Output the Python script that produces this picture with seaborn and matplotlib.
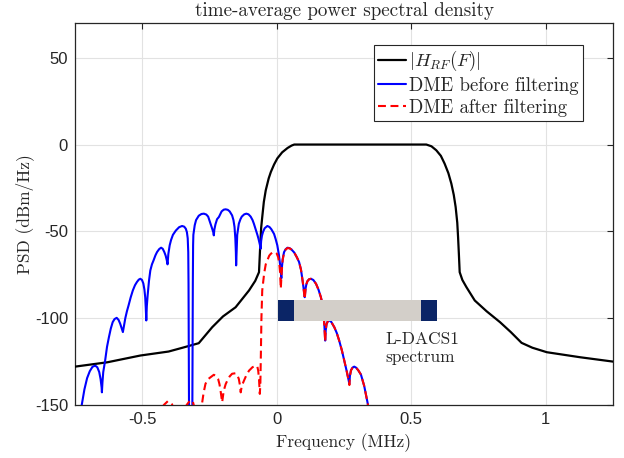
import matplotlib
matplotlib.use("Agg")
import matplotlib.pyplot as plt
from matplotlib.lines import Line2D
import seaborn as sns
import pandas as pd

# ---------------- data ----------------
# |H_RF(F)| filter response: (frequency MHz, dBm/Hz)
h_rf = [(-0.75, -127.9), (-0.63, -125.4), (-0.507, -121.5), (-0.402, -119.2), (-0.35, -117.0),
        (-0.29, -114.4), (-0.24, -105.2), (-0.2, -99.0), (-0.153, -93.7), (-0.103, -84.0),
        (-0.08, -78.5), (-0.066, -73.5), (-0.062, -60.0), (-0.058, -48.0), (-0.054, -41.8),
        (-0.048, -33.0), (-0.041, -26.4), (-0.03, -19.5), (-0.022, -15.8), (-0.01, -11.5),
        (0.002, -8.0), (0.02, -4.5), (0.04, -2.0), (0.055, -0.6), (0.065, 0.0), (0.3, 0.0),
        (0.556, 0.0), (0.575, -1.0), (0.593, -3.3), (0.61, -6.5), (0.624, -11.0),
        (0.638, -16.5), (0.649, -22.5), (0.658, -29.0), (0.665, -36.0), (0.671, -45.0),
        (0.674, -53.3), (0.677, -63.0), (0.68, -73.5), (0.69, -78.0), (0.705, -82.1),
        (0.736, -89.8), (0.78, -96.0), (0.83, -102.3), (0.87, -108.0), (0.91, -114.2),
        (0.95, -117.0), (1.004, -119.6), (1.128, -122.5), (1.25, -125.0)]

# DME spectrum before filtering
dme_before = [
    (-0.74, -162.0), (-0.725, -150.0), (-0.715, -141.0), (-0.705, -134.5), (-0.695, -130.5),
    (-0.685, -128.0), (-0.675, -127.3), (-0.667, -128.3), (-0.66, -131.0), (-0.655, -135.0),
    (-0.651, -140.0), (-0.65, -142.7),
    (-0.648, -137.0), (-0.645, -131.0), (-0.641, -127.0), (-0.638, -124.4), (-0.631, -116.5),
    (-0.624, -111.0), (-0.617, -106.0), (-0.61, -102.3), (-0.603, -100.5), (-0.595, -99.8),
    (-0.588, -101.0), (-0.582, -103.2), (-0.577, -105.5), (-0.572, -108.0),
    (-0.568, -104.5), (-0.563, -100.0), (-0.557, -96.0), (-0.551, -92.7), (-0.543, -88.0),
    (-0.535, -84.0), (-0.527, -81.0), (-0.52, -79.2), (-0.513, -77.8), (-0.507, -77.3),
    (-0.501, -78.0), (-0.496, -80.0), (-0.492, -83.5), (-0.489, -88.0), (-0.487, -94.0),
    (-0.485, -101.3),
    (-0.483, -93.0), (-0.48, -86.9), (-0.475, -78.5), (-0.47, -72.5), (-0.464, -69.0),
    (-0.458, -66.7), (-0.451, -63.8), (-0.445, -61.9), (-0.437, -60.2), (-0.43, -59.4),
    (-0.424, -60.0), (-0.418, -61.9), (-0.413, -64.0), (-0.409, -66.5), (-0.406, -69.0),
    (-0.403, -63.0), (-0.398, -58.0), (-0.393, -55.0), (-0.386, -52.0), (-0.375, -49.5),
    (-0.363, -47.6), (-0.352, -46.9), (-0.344, -47.3), (-0.338, -48.5), (-0.334, -50.5),
    (-0.331, -54.0), (-0.329, -62.0), (-0.328, -80.0), (-0.326, -160.0),
    (-0.32, -175.0), (-0.314, -160.0), (-0.312, -80.0), (-0.311, -58.0), (-0.31, -52.0),
    (-0.305, -46.5), (-0.3, -43.5), (-0.29, -41.0), (-0.28, -40.0), (-0.271, -39.8),
    (-0.262, -40.3), (-0.255, -41.5), (-0.246, -45.6), (-0.24, -48.5), (-0.236, -50.5),
    (-0.234, -52.3),
    (-0.232, -49.0), (-0.228, -46.0), (-0.222, -43.0), (-0.215, -41.7), (-0.205, -38.5),
    (-0.197, -37.5), (-0.19, -37.3), (-0.182, -37.6), (-0.175, -38.5), (-0.166, -40.8),
    (-0.161, -43.5), (-0.157, -47.5), (-0.154, -54.0), (-0.152, -62.0), (-0.151, -69.6),
    (-0.149, -60.0), (-0.147, -52.0), (-0.141, -45.6), (-0.135, -43.0), (-0.13, -41.5),
    (-0.121, -40.2), (-0.113, -39.8), (-0.105, -40.2), (-0.097, -41.5), (-0.09, -43.5),
    (-0.085, -45.6), (-0.078, -49.0), (-0.072, -52.0), (-0.068, -54.2), (-0.063, -57.5),
    (-0.06, -60.0),
    (-0.058, -55.5), (-0.055, -52.5), (-0.051, -50.3), (-0.045, -48.2), (-0.035, -46.9),
    (-0.027, -47.5), (-0.02, -48.8), (-0.01, -51.5), (-0.004, -54.5), (0.002, -58.0),
    (0.008, -63.5), (0.013, -70.0), (0.017, -77.0),
    (0.019, -71.0), (0.022, -66.0), (0.027, -62.0), (0.033, -60.3), (0.04, -59.4),
    (0.048, -59.7), (0.055, -60.5), (0.065, -62.2), (0.075, -65.0), (0.083, -67.7),
    (0.09, -72.0), (0.096, -78.3), (0.1, -83.0), (0.104, -87.9),
    (0.107, -83.0), (0.11, -80.5), (0.114, -78.7), (0.12, -77.6), (0.127, -77.3),
    (0.136, -78.0), (0.146, -80.2), (0.155, -83.5), (0.164, -87.9), (0.17, -92.0),
    (0.174, -97.5), (0.177, -104.0), (0.18, -112.9),
    (0.182, -107.0), (0.185, -103.5), (0.19, -101.7), (0.195, -101.3), (0.202, -102.0),
    (0.214, -105.2), (0.223, -108.5), (0.232, -112.9), (0.242, -118.5), (0.251, -124.4),
    (0.26, -130.5), (0.266, -135.0), (0.27, -137.8),
    (0.272, -133.0), (0.276, -130.0), (0.282, -128.4), (0.288, -127.9), (0.295, -128.5),
    (0.303, -130.0), (0.313, -132.5), (0.325, -139.0), (0.338, -149.0), (0.35, -160.0)]

# DME spectrum after filtering
dme_after = [
    (-0.44, -158.0), (-0.42, -150.0), (-0.405, -147.8), (-0.39, -149.5), (-0.37, -156.0),
    (-0.35, -155.0), (-0.335, -150.0), (-0.322, -147.3), (-0.312, -148.0), (-0.3, -155.0),
    (-0.287, -152.0), (-0.278, -149.4), (-0.272, -143.0), (-0.265, -137.8), (-0.256, -135.2),
    (-0.246, -134.0), (-0.234, -132.6), (-0.225, -133.3), (-0.218, -135.0), (-0.213, -138.0),
    (-0.209, -141.7), (-0.206, -145.0), (-0.203, -148.4), (-0.2, -145.0), (-0.197, -141.7),
    (-0.19, -138.0), (-0.184, -136.0), (-0.175, -133.5), (-0.166, -132.0), (-0.153, -131.7),
    (-0.146, -133.0), (-0.141, -135.0), (-0.137, -138.5), (-0.134, -142.7), (-0.13, -139.0),
    (-0.122, -136.0), (-0.112, -132.5), (-0.103, -130.2), (-0.09, -128.2), (-0.076, -127.3),
    (-0.072, -128.0), (-0.069, -130.2), (-0.066, -135.0), (-0.063, -143.6),
    (-0.061, -138.0), (-0.059, -120.0), (-0.057, -100.0), (-0.054, -84.0), (-0.047, -74.4),
    (-0.041, -69.0), (-0.035, -66.7), (-0.028, -64.0), (-0.022, -62.9), (-0.015, -62.1),
    (-0.007, -61.9), (0.0, -62.8), (0.005, -64.8), (0.009, -68.0), (0.012, -73.0),
    (0.015, -83.0),
    (0.018, -74.0), (0.022, -66.5), (0.027, -62.3), (0.033, -60.5), (0.04, -59.6),
    (0.048, -59.8), (0.055, -60.5), (0.065, -62.2), (0.075, -65.0), (0.083, -67.7),
    (0.09, -72.0), (0.096, -78.3), (0.1, -83.5), (0.104, -89.0),
    (0.107, -83.5), (0.11, -80.5), (0.114, -78.7), (0.12, -77.6), (0.127, -77.3),
    (0.136, -78.0), (0.146, -80.2), (0.155, -83.5), (0.164, -87.9), (0.17, -92.0),
    (0.174, -97.5), (0.177, -104.5), (0.18, -113.5),
    (0.182, -107.0), (0.185, -103.5), (0.19, -101.7), (0.195, -101.3), (0.202, -102.0),
    (0.214, -105.2), (0.223, -108.5), (0.232, -112.9), (0.242, -118.5), (0.251, -124.4),
    (0.26, -130.5), (0.266, -135.0), (0.27, -138.5),
    (0.272, -133.5), (0.276, -130.0), (0.282, -128.4), (0.288, -127.9), (0.295, -128.5),
    (0.303, -130.0), (0.313, -132.5), (0.325, -139.0), (0.338, -149.0), (0.35, -160.0)]

# L-DACS1 spectrum bar: segment edges (MHz) and level range (dBm/Hz)
ldacs_edges = [0.005, 0.065, 0.538, 0.597]
ldacs_levels = [-101.7, -89.8]

series_labels = [r"$|H_{RF}(F)|$", "DME before filtering", "DME after filtering"]
x_ticks = [-0.5, 0, 0.5, 1]
x_tick_labels = ["-0.5", "0", "0.5", "1"]
y_ticks = [-150, -100, -50, 0, 50]
y_tick_labels = ["-150", "-100", "-50", "0", "50"]

# ---------------- style ----------------
sns.set_style("white")
plt.rcParams["font.family"] = ["Liberation Sans", "DejaVu Sans"]
plt.rcParams["mathtext.fontset"] = "cm"
plt.rcParams["axes.unicode_minus"] = False
serif = ["cmr10", "DejaVu Serif"]

fig = plt.figure(figsize=(6.24, 4.58), dpi=100)
ax = fig.add_axes([0.1202, 0.1157, 0.8622, 0.8341])

df_h = pd.DataFrame(h_rf, columns=["f", "p"])
df_b = pd.DataFrame(dme_before, columns=["f", "p"])
df_a = pd.DataFrame(dme_after, columns=["f", "p"])

dash = (0, (3.8, 2.2))
sns.lineplot(data=df_h, x="f", y="p", sort=False, estimator=None, color="black",
             lw=1.6, ax=ax, zorder=3)
sns.lineplot(data=df_b, x="f", y="p", sort=False, estimator=None, color="#0000ff",
             lw=1.5, ax=ax, zorder=4)
sns.lineplot(data=df_a, x="f", y="p", sort=False, estimator=None, color="#ff0000",
             lw=1.5, ax=ax, zorder=5)
ax.lines[-1].set_linestyle(dash)

# L-DACS1 bar
bar_h = ldacs_levels[1] - ldacs_levels[0]
bar_c = (ldacs_levels[0] + ldacs_levels[1]) / 2
widths = [ldacs_edges[i + 1] - ldacs_edges[i] for i in range(3)]
ax.barh([bar_c] * 3, widths, left=ldacs_edges[:3], height=bar_h,
        color=["#0b2566", "#d3cfc9", "#0b2566"], edgecolor="none", zorder=6)
ax.text(0.405, -107.5, "L-DACS1\nspectrum", family=serif, fontsize=12.5,
        ha="left", va="top", linespacing=1.25, color="#262626", zorder=7)

ax.set_xlim(-0.75, 1.25)
ax.set_ylim(-150, 70)
ax.set_xticks(x_ticks)
ax.set_xticklabels(x_tick_labels)
ax.set_yticks(y_ticks)
ax.set_yticklabels(y_tick_labels)
ax.tick_params(direction="in", length=4, width=0.8, colors="#262626",
               labelsize=12, top=True, right=True, pad=5)
ax.grid(True, color="#e2e2e2", lw=0.8)
ax.set_axisbelow(True)
for s in ax.spines.values():
    s.set_visible(True)
    s.set_color("#262626")
    s.set_linewidth(0.9)

ax.set_xlabel("Frequency (MHz)", family=serif, fontsize=12.5, color="#262626", labelpad=4.5)
ax.set_ylabel("PSD (dBm/Hz)", family=serif, fontsize=12.5, color="#262626", labelpad=0.5)
ax.set_title("time-average power spectral density", family=serif, fontsize=13.7,
             color="#262626", pad=5)

handles = [Line2D([], [], color="black", lw=1.6),
           Line2D([], [], color="#0000ff", lw=1.5),
           Line2D([], [], color="#ff0000", lw=1.5, ls=dash)]
leg = ax.legend(handles, series_labels, loc="upper right", bbox_to_anchor=(0.9442, 0.9424),
                prop={"family": serif, "size": 13.5}, frameon=True, fancybox=False,
                framealpha=1, edgecolor="#262626", borderpad=0.22, handlelength=1.5,
                handletextpad=0.15, labelspacing=0.2, borderaxespad=0)
leg.get_frame().set_linewidth(0.8)
leg.set_zorder(10)

fig.savefig("out.png", dpi=100)
